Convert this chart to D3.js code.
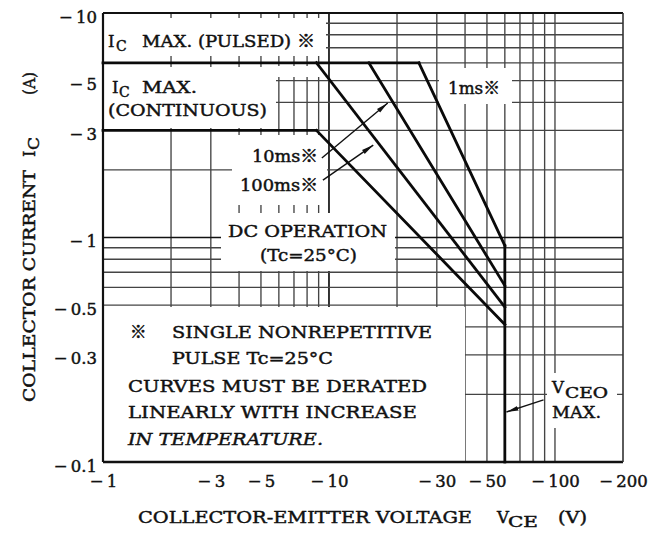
<!DOCTYPE html>
<html><head><meta charset="utf-8">
<script src="https://cdn.jsdelivr.net/npm/d3@7"></script>
<style>
body{margin:0;background:#fff}
svg{display:block}
text{font-family:"DejaVu Serif","Liberation Serif","Noto Sans CJK JP",serif;fill:#111;stroke:#111;stroke-width:0.45px}
</style>
</head><body><svg id="c" width="665" height="533"></svg>
<script>
// ---- data ----
const xTickValues = [1, 3, 5, 10, 30, 50, 100, 200];
const xTickLabels = ["−\u20091", "−\u20093", "−\u20095", "−\u200910", "−\u200930", "−\u200950", "−\u2009100", "−\u2009200"];
const yTickValues = [10, 5, 3, 1, 0.5, 0.3, 0.1];
const yTickLabels = ["−\u200910", "−\u20095", "−\u20093", "−\u20091", "−\u20090.5", "−\u20090.3", "−\u20090.1"];
const xGridValues = [2, 3, 4, 5, 6, 7, 8, 9, 10, 20, 30, 40, 50, 60, 70, 80, 90, 100];
const yGridValues = [0.2, 0.3, 0.4, 0.5, 0.6, 0.7, 0.8, 0.9, 1, 2, 3, 4, 5, 6, 7, 8, 9];

// SOA boundaries: [VCE (V, magnitude), IC (A, magnitude)]
const icPulsed     = [[1, 6], [25, 6]];
const icContinuous = [[1, 3], [8.8, 3]];
const soa1ms       = [[25, 6], [60, 0.92]];
const soa10ms      = [[15, 6], [60, 0.61]];
const soa100ms     = [[8.8, 6], [60, 0.49]];
const soaDC        = [[8.8, 3], [60, 0.41]];
const vceoMax      = [[60, 0.92], [60, 0.1]];

// annotation arrows (data coords, tail -> head)
const arrow10ms  = [[9.3, 2.26], [18.2, 3.97]];
const arrow100ms = [[9.4, 1.80], [15.7, 2.58]];
const arrowVceo  = [[89, 0.189], [61, 0.167]];

// ---- chart ----
const svg = d3.select("#c");
svg.append("rect").attr("width", 665).attr("height", 533).attr("fill", "#fff");

const x = d3.scaleLog().domain([1, 200]).range([103, 623]);
const y = d3.scaleLog().domain([0.1, 10]).range([462, 13]);

const defs = svg.append("defs");
defs.append("marker").attr("id", "ah").attr("viewBox", "0 0 12 6")
  .attr("refX", 12).attr("refY", 3).attr("markerWidth", 12).attr("markerHeight", 6)
  .attr("markerUnits", "userSpaceOnUse").attr("orient", "auto")
  .append("path").attr("d", "M0,0.6 L12,3 L0,5.4 Z").attr("fill", "#111");

// grid
const grid = svg.append("g");
grid.selectAll("line.v").data(xGridValues).join("line")
  .attr("x1", d => x(d)).attr("x2", d => x(d)).attr("y1", y(10)).attr("y2", y(0.1))
  .attr("stroke", d => d === 10 ? "#111" : "#444")
  .attr("stroke-width", d => d === 10 ? 1.7 : 1.35);
grid.selectAll("line.h").data(yGridValues).join("line")
  .attr("y1", d => y(d)).attr("y2", d => y(d)).attr("x1", x(1)).attr("x2", x(200))
  .attr("stroke", d => d === 1 ? "#111" : "#444")
  .attr("stroke-width", d => d === 1 ? 1.7 : 1.35);

// white label backgrounds (cover grid)
const boxes = [
  [104, 18, 326, 56],   // pulsed
  [104, 67, 276, 128],  // continuous
  [276, 66, 326, 77],
  [232, 135, 327, 205], // 10ms / 100ms
  [221, 213, 395, 271], // DC operation
  [104, 307, 465, 461], // note
  [439, 68, 512, 104],  // 1ms
  [547, 373, 617, 428]  // VCEO
];
svg.append("g").selectAll("rect").data(boxes).join("rect")
  .attr("x", d => d[0]).attr("y", d => d[1])
  .attr("width", d => d[2] - d[0]).attr("height", d => d[3] - d[1])
  .attr("fill", "#fff");

// frame
const fr = svg.append("g").attr("stroke", "#111").attr("fill", "none");
fr.append("line").attr("x1", x(1)).attr("x2", x(200)).attr("y1", y(10)).attr("y2", y(10)).attr("stroke-width", 2);
fr.append("line").attr("x1", x(1)).attr("x2", x(200)).attr("y1", y(0.1)).attr("y2", y(0.1)).attr("stroke-width", 2.4);
fr.append("line").attr("x1", x(1)).attr("x2", x(1)).attr("y1", y(10)).attr("y2", y(0.1)).attr("stroke-width", 2.2);
fr.append("line").attr("x1", x(200)).attr("x2", x(200)).attr("y1", y(10)).attr("y2", y(0.1)).attr("stroke-width", 1.6).attr("stroke", "#333");

// SOA curves
const line = d3.line().x(d => x(d[0])).y(d => y(d[1]));
const curves = [icPulsed, icContinuous, soa1ms, soa10ms, soa100ms, soaDC, vceoMax];
svg.append("g").selectAll("path").data(curves).join("path")
  .attr("d", line).attr("fill", "none").attr("stroke", "#0a0a0a")
  .attr("stroke-width", 2.8).attr("stroke-linecap", "square");

// arrows
svg.append("g").selectAll("path").data([arrow10ms, arrow100ms, arrowVceo]).join("path")
  .attr("d", line).attr("fill", "none").attr("stroke", "#111").attr("stroke-width", 1.4)
  .attr("marker-end", "url(#ah)");

// axes
const fs = 16.5;
const ay = svg.append("g").attr("transform", `translate(${x(1)},0)`)
  .call(d3.axisLeft(y).tickValues(yTickValues).tickFormat((d, i) => yTickLabels[i]).tickSize(0).tickPadding(6));
ay.select(".domain").remove();
ay.selectAll("text").attr("font-size", fs).attr("dy", "0.55em")
  .style("font-family", '"DejaVu Serif",serif').attr("fill", "#111");

const ax = svg.append("g").attr("transform", `translate(0,${y(0.1)})`)
  .call(d3.axisBottom(x).tickValues(xTickValues).tickFormat((d, i) => xTickLabels[i]).tickSize(0).tickPadding(13));
ax.select(".domain").remove();
ax.selectAll("text").attr("font-size", fs).attr("dy", "0.71em")
  .style("font-family", '"DejaVu Serif",serif').attr("fill", "#111");

// labels
const labels = [
  {t: "I", x: 108, y: 47},
  {t: "C", x: 116, y: 51, s: 14},
  {t: "MAX. (PULSED) ※", x: 142, y: 47, len: 173},
  {t: "I", x: 112, y: 93},
  {t: "C", x: 119, y: 97, s: 14},
  {t: "MAX.", x: 142, y: 93, len: 55},
  {t: "(CONTINUOUS)", x: 108, y: 116, len: 159},
  {t: "10ms※", x: 318, y: 162, a: "end", len: 66},
  {t: "100ms※", x: 318, y: 191, a: "end", len: 78},
  {t: "DC OPERATION", x: 228, y: 237, len: 159},
  {t: "(Tc=25°C)", x: 260, y: 261, len: 97},
  {t: "1ms※", x: 448, y: 94, len: 52},
  {t: "※", x: 130, y: 338},
  {t: "SINGLE NONREPETITIVE", x: 172, y: 338, len: 260},
  {t: "PULSE Tc=25°C", x: 172, y: 364, len: 161},
  {t: "CURVES MUST BE DERATED", x: 128, y: 392, len: 299},
  {t: "LINEARLY WITH INCREASE", x: 128, y: 418, len: 289},
  {t: "IN TEMPERATURE.", x: 128, y: 445, len: 195, it: true},
  {t: "V", x: 552, y: 393},
  {t: "CEO", x: 565, y: 398, s: 14, len: 43},
  {t: "MAX.", x: 552, y: 418, len: 49},
  {t: "COLLECTOR-EMITTER VOLTAGE", x: 138, y: 523, len: 334},
  {t: "V", x: 497, y: 523},
  {t: "CE", x: 508, y: 527, s: 14, len: 30},
  {t: "(V)", x: 558, y: 523, len: 29}
];
const lg = svg.append("g");
labels.forEach(l => {
  const el = lg.append("text").attr("x", l.x).attr("y", l.y)
    .attr("font-size", l.s || 16.5).attr("text-anchor", l.a || "start").text(l.t);
  if (l.len) el.attr("textLength", l.len).attr("lengthAdjust", "spacingAndGlyphs");
  if (l.it) el.attr("font-style", "italic");
});

// rotated y-axis title
const yt = [
  {t: "COLLECTOR CURRENT", p: 402, b: 35, len: 232},
  {t: "I", p: 157, b: 35},
  {t: "C", p: 150, b: 39, s: 14, len: 13},
  {t: "(A)", p: 95, b: 35, len: 23}
];
yt.forEach(l => {
  const el = svg.append("text").attr("transform", `translate(${l.b},${l.p}) rotate(-90)`)
    .attr("font-size", l.s || 16.5).text(l.t);
  if (l.len) el.attr("textLength", l.len).attr("lengthAdjust", "spacingAndGlyphs");
});
</script>
</body></html>
